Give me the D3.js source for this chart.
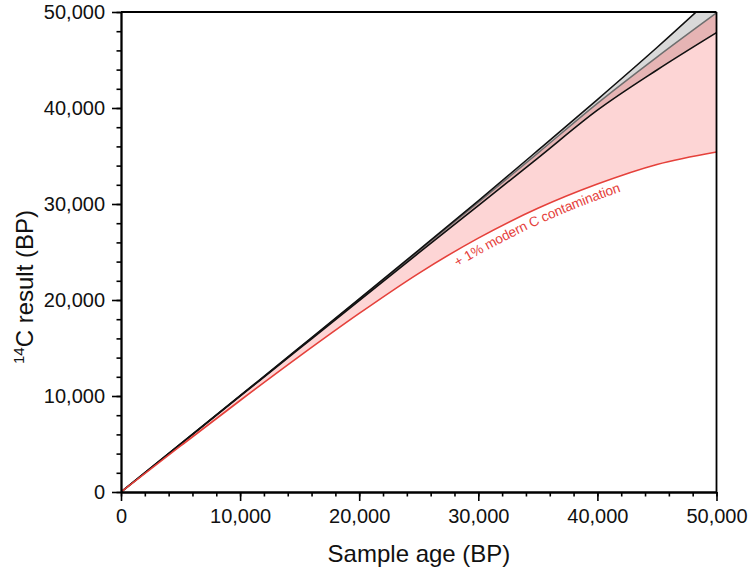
<!DOCTYPE html>
<html>
<head>
<meta charset="utf-8">
<script src="https://cdn.jsdelivr.net/npm/d3@7/dist/d3.min.js"></script>
<style>
  html, body { margin: 0; padding: 0; background: #fff; }
  svg { display: block; font-family: "Liberation Sans", Arial, sans-serif; }
</style>
</head>
<body>
<svg id="chart" width="750" height="572"></svg>
<script>
// ---- data ----
const sampleAge   = [0, 5000, 10000, 15000, 20000, 25000, 30000, 35000, 40000, 45000, 50000];
const upperLine   = [0, 5010, 10030, 15070, 20120, 25200, 30330, 35580, 40880, 46300, 51950];
const greyLine    = [0, 5005, 10015, 15035, 20060, 25100, 30160, 35300, 40480, 45300, 49900];
const lowerLine   = [0, 4990, 9975, 14960, 19940, 24900, 29830, 34780, 39770, 43960, 47850];
const contamLine  = [0, 4793, 9531, 14150, 18600, 22780, 26450, 29550, 32080, 34120, 35420];
const majorTicks  = [0, 10000, 20000, 30000, 40000, 50000];
const minorTicks  = d3.range(0, 50001, 2000);
const xTitle = "Sample age (BP)";
const yTitleSup = "14";
const yTitleRest = "C result (BP)";
const curveLabel = "+ 1% modern C contamination";

// ---- layout ----
const svg = d3.select("#chart");
const x = d3.scaleLinear().domain([0, 50000]).range([121, 716.5]);
const y = d3.scaleLinear().domain([0, 50000]).range([492, 12]);

const pts = (arr) => sampleAge.map((a, i) => [a, arr[i]]);
const curve = d3.curveMonotoneX;

svg.append("defs").append("clipPath").attr("id", "plotclip")
  .append("rect").attr("x", x(0)).attr("y", y(50000))
  .attr("width", x(50000) - x(0)).attr("height", y(0) - y(50000));

const plot = svg.append("g").attr("clip-path", "url(#plotclip)");

function band(top, bottom) {
  return d3.area()
    .x((d, i) => x(sampleAge[i]))
    .y0((d, i) => y(bottom[i]))
    .y1((d, i) => y(top[i]))
    .curve(curve)(sampleAge);
}
// fills
plot.append("path").attr("d", band(lowerLine, contamLine)).attr("fill", "#fdd5d5");
plot.append("path").attr("d", band(greyLine, lowerLine)).attr("fill", "#e6b4b4");
plot.append("path").attr("d", band(upperLine, greyLine)).attr("fill", "#d9d9d9");

const line = d3.line().x(d => x(d[0])).y(d => y(d[1])).curve(curve);
plot.append("path").attr("d", line(pts(greyLine))).attr("fill", "none")
  .attr("stroke", "#6e6e6e").attr("stroke-width", 1.5);
plot.append("path").attr("d", line(pts(upperLine))).attr("fill", "none")
  .attr("stroke", "#111").attr("stroke-width", 1.6);
plot.append("path").attr("d", line(pts(lowerLine))).attr("fill", "none")
  .attr("stroke", "#111").attr("stroke-width", 1.6);
const redPath = plot.append("path").attr("id", "redcurve")
  .attr("d", line(pts(contamLine))).attr("fill", "none")
  .attr("stroke", "#e5413b").attr("stroke-width", 1.6);

// label along the red curve
const node = redPath.node();
const total = node.getTotalLength();
let lo = 0, hi = total;
for (let k = 0; k < 40; k++) {
  const mid = (lo + hi) / 2;
  if (node.getPointAtLength(mid).x < 450) lo = mid; else hi = mid;
}
svg.append("text")
  .attr("font-size", 13.6).attr("fill", "#e5413b").attr("dy", 15)
  .append("textPath").attr("href", "#redcurve").attr("startOffset", lo)
  .text(curveLabel);

// frame (top and right)
svg.append("line").attr("x1", x(0)).attr("x2", x(50000)).attr("y1", y(50000)).attr("y2", y(50000))
  .attr("stroke", "#000").attr("stroke-width", 1.8);
svg.append("line").attr("x1", x(50000)).attr("x2", x(50000)).attr("y1", y(0)).attr("y2", y(50000))
  .attr("stroke", "#000").attr("stroke-width", 1.8);

// axes
const fmt = d3.format(",");
function styleAxis(g) {
  g.select(".domain").attr("stroke", "#000").attr("stroke-width", 1.8);
  g.selectAll(".tick line").attr("stroke", "#000").attr("stroke-width", 1.6);
  g.selectAll(".tick text").attr("font-size", 20).attr("fill", "#111")
    .attr("font-family", "'Liberation Sans', Arial, sans-serif");
}
svg.append("g").attr("transform", `translate(0,${y(0)})`)
  .call(d3.axisBottom(x).tickValues(minorTicks).tickSize(4.5).tickFormat("").tickSizeOuter(0))
  .call(styleAxis);
svg.append("g").attr("transform", `translate(${x(0)},0)`)
  .call(d3.axisLeft(y).tickValues(minorTicks).tickSize(4.5).tickFormat("").tickSizeOuter(0))
  .call(styleAxis);
svg.append("g").attr("transform", `translate(0,${y(0)})`)
  .call(d3.axisBottom(x).tickValues(majorTicks).tickSize(9).tickPadding(8).tickFormat(fmt).tickSizeOuter(0))
  .call(styleAxis);
svg.append("g").attr("transform", `translate(${x(0)},0)`)
  .call(d3.axisLeft(y).tickValues(majorTicks).tickSize(9).tickPadding(7).tickFormat(fmt).tickSizeOuter(0))
  .call(styleAxis);

// titles
svg.append("text").attr("x", 419).attr("y", 562).attr("text-anchor", "middle")
  .attr("font-size", 24).attr("fill", "#111").text(xTitle);
const yt = svg.append("text").attr("transform", "translate(33,287) rotate(-90)")
  .attr("text-anchor", "middle").attr("font-size", 24).attr("fill", "#111");
yt.append("tspan").attr("font-size", 15).attr("dy", -9).text(yTitleSup);
yt.append("tspan").attr("dy", 9).text(yTitleRest);
</script>
</body>
</html>
